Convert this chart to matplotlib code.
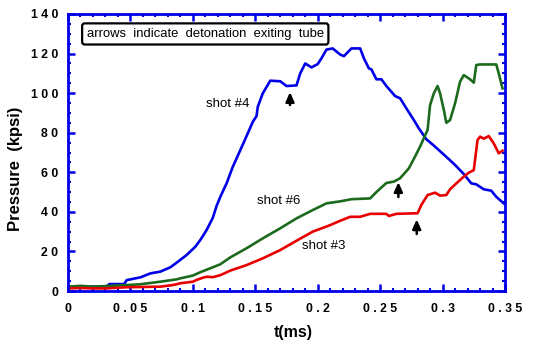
import matplotlib
matplotlib.use("Agg")
import matplotlib.pyplot as plt
from matplotlib.ticker import MultipleLocator

plt.rcParams['font.family'] = ['Liberation Sans', 'DejaVu Sans']

# shot #4
t4 = [0, 0.01, 0.02, 0.031, 0.033, 0.045, 0.047, 0.058, 0.066, 0.074, 0.082, 0.087,
      0.095, 0.102, 0.106, 0.111, 0.116, 0.119, 0.122, 0.127, 0.132, 0.138, 0.144,
      0.148, 0.151, 0.152, 0.156, 0.162, 0.170, 0.175, 0.183, 0.186, 0.190, 0.195,
      0.200, 0.203, 0.207, 0.212, 0.218, 0.221, 0.227, 0.234, 0.237, 0.241, 0.243,
      0.247, 0.251, 0.255, 0.262, 0.266, 0.271, 0.277, 0.281, 0.287, 0.293, 0.303,
      0.310, 0.317, 0.323, 0.327, 0.333, 0.339, 0.343, 0.349]
p4 = [2, 2, 2.2, 2.2, 3.5, 3.5, 5.5, 6.9, 8.9, 9.8, 12, 14.3,
      18.2, 22.4, 25.8, 30.8, 37, 43, 47.6, 54.4, 62.8, 71.2, 79.7,
      85.5, 88.4, 93.1, 99.9, 106.3, 106, 103.6, 103.9, 110, 115, 113,
      114.7, 117.6, 122, 122.6, 119.5, 118.7, 122.6, 122.6, 117.6, 112.5, 112,
      107, 107, 103.6, 98.5, 97.4, 92.3, 86.4, 82.2, 76.7, 73.5, 67.8,
      63.7, 59.1, 54.4, 53.9, 51.4, 50.7, 47.6, 44.3]

# shot #6
t6 = [0, 0.01, 0.02, 0.03, 0.047, 0.058, 0.074, 0.087, 0.090, 0.100, 0.106, 0.116,
      0.122, 0.130, 0.143, 0.156, 0.170, 0.183, 0.196, 0.207, 0.218, 0.227, 0.242,
      0.247, 0.255, 0.261, 0.266, 0.273, 0.278, 0.282, 0.288, 0.290, 0.293, 0.296,
      0.298, 0.301, 0.303, 0.306, 0.310, 0.314, 0.317, 0.322, 0.325, 0.327, 0.330,
      0.343, 0.345, 0.348]
p6 = [2.2, 2.6, 2.2, 2.5, 3, 3.4, 4.7, 5.9, 6.4, 7.8, 9.5, 12,
      13.5, 17, 21.6, 26.6, 31.7, 36.7, 40.9, 44.3, 45.3, 46.4, 46.8,
      50, 54.6, 55.3, 57, 62, 68, 73, 81.4, 94, 99.9, 103.6,
      99.9, 91.5, 85, 86.4, 94.8, 105.8, 109.1, 107, 105.3, 114.2, 114.5,
      114.5, 110, 102.4]

# shot #3
t3 = [0, 0.01, 0.02, 0.03, 0.047, 0.074, 0.084, 0.090, 0.100, 0.103, 0.108, 0.111,
      0.116, 0.122, 0.130, 0.143, 0.156, 0.170, 0.183, 0.196, 0.210, 0.218, 0.226,
      0.234, 0.242, 0.255, 0.257, 0.263, 0.280, 0.283, 0.288, 0.294, 0.298, 0.303,
      0.306, 0.311, 0.317, 0.321, 0.325, 0.328, 0.330, 0.333, 0.337, 0.341, 0.345,
      0.348]
p3 = [1.3, 1.5, 1.3, 1.3, 1.9, 2.2, 3, 3.9, 4.7, 5.6, 6.7, 7.2,
      7.0, 8.0, 10.3, 13.1, 16.5, 20.7, 25.4, 30, 33.3, 35.5, 37.5,
      37.5, 39, 39, 37.9, 39, 39.3, 43.5, 48.5, 49.7, 48.2, 48.5,
      51.4, 54.4, 57.8, 59.8, 61.1, 76.3, 78, 77, 78.3, 74.6, 69.6,
      70.9]

x_ticks = [0, 0.05, 0.1, 0.15, 0.2, 0.25, 0.3, 0.35]
x_ticklabels = ["0", "0 . 0 5", "0 . 1", "0 . 1 5", "0 . 2", "0 . 2 5", "0 . 3", "0 . 3 5"]
y_ticks = [0, 20, 40, 60, 80, 100, 120, 140]
y_ticklabels = ["0", "2 0", "4 0", "6 0", "8 0", "1 0 0", "1 2 0", "1 4 0"]

# detonation exit markers: (time, arrow tip, arrow tail)
arrows = [(0.1778, 100.5, 94.0), (0.2646, 55.0, 47.5), (0.2793, 36.2, 28.8)]

BLUE = '#0000e8'
GREEN = '#1c6b1c'
RED = '#e80000'

fig = plt.figure(figsize=(5.34, 3.45), dpi=100)
ax = fig.add_axes([68/534, 1 - 291/345, (505-68)/534, (291-14)/345])

ax.plot(t4, p4, color=BLUE, lw=1.9)
ax.plot(t6, p6, color=GREEN, lw=1.9)
ax.plot(t3, p3, color=RED, lw=1.9)

ax.set_xlim(0, 0.35)
ax.set_ylim(0, 140)
ax.set_xticks(x_ticks)
ax.set_xticklabels(x_ticklabels, fontsize=8.8, fontweight='bold')
ax.set_yticks(y_ticks)
ax.set_yticklabels(y_ticklabels, fontsize=8.8, fontweight='bold')
ax.xaxis.set_minor_locator(MultipleLocator(0.01))
ax.yaxis.set_minor_locator(MultipleLocator(5))
ax.tick_params(which='both', direction='in', top=True, right=True, color=BLUE)
ax.tick_params(which='major', length=5, width=1.8)
ax.tick_params(which='minor', length=2.5, width=1.5)
ax.tick_params(axis='x', pad=9)
ax.tick_params(axis='y', pad=7)
for s in ax.spines.values():
    s.set_color(BLUE)
    s.set_linewidth(2)

fig.text(293/534, 1 - 333/345, 't(ms)', fontsize=11.5, fontweight='bold',
         ha='center', va='center')
fig.text(15.5/534, 1 - 169/345, 'Pressure  (kpsi)', fontsize=12, fontweight='bold',
         ha='center', va='center', rotation=90)

ax.text(0.128, 94.5, 'shot #4', fontsize=9.5, ha='center', va='center')
ax.text(0.1687, 45.6, 'shot #6', fontsize=9.5, ha='center', va='center')
ax.text(0.205, 22.7, 'shot #3', fontsize=9.5, ha='center', va='center')

for tx, tip, tail in arrows:
    ax.annotate('', xy=(tx, tip), xytext=(tx, tail),
                arrowprops=dict(arrowstyle='-|>,head_length=0.55,head_width=0.25',
                                color='black', lw=1.8, shrinkA=0, shrinkB=0))

ax.text(0.0428, 0.928, 'arrows  indicate  detonation  exiting  tube', transform=ax.transAxes,
        fontsize=9.4, ha='left', va='center',
        bbox=dict(boxstyle='round,pad=0.35,rounding_size=0.2', fc='white', ec='black', lw=1.6))

fig.savefig('out.png', dpi=100)
